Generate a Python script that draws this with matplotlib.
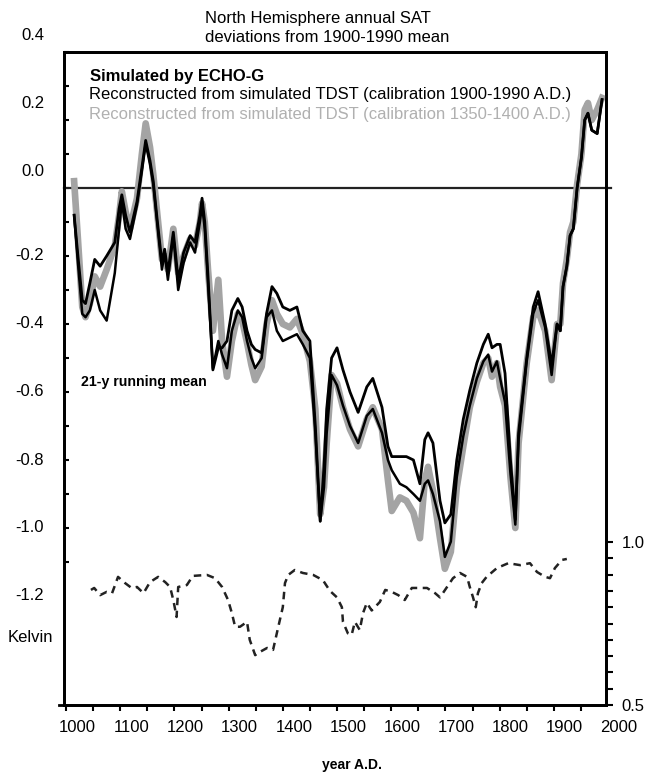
import matplotlib
matplotlib.use("Agg")
import matplotlib.pyplot as plt
from matplotlib.transforms import blended_transform_factory

plt.rcParams['font.family'] = ['Liberation Sans', 'DejaVu Sans']

# ---------------- data ----------------
years = [1015, 1022, 1030, 1036, 1044, 1053, 1063, 1075, 1090, 1098, 1103, 1110, 1118, 1131,
         1140, 1147, 1155, 1161, 1168, 1177, 1182, 1188, 1198, 1207, 1217, 1229, 1238, 1247,
         1251, 1256, 1262, 1271, 1281, 1288, 1297, 1306, 1317, 1325, 1334, 1342, 1349, 1361,
         1370, 1380, 1389, 1400, 1413, 1426, 1437, 1450, 1460, 1469, 1476, 1481, 1490, 1500,
         1511, 1524, 1539, 1555, 1566, 1583, 1594, 1601, 1616, 1628, 1641, 1653, 1662, 1668,
         1677, 1690, 1699, 1710, 1721, 1733, 1745, 1758, 1770, 1779, 1786, 1795, 1801, 1810,
         1820, 1829, 1835, 1850, 1862, 1871, 1884, 1896, 1906, 1912, 1917, 1924, 1930, 1936,
         1943, 1951, 1957, 1963, 1970, 1980, 1989]

# reconstructed, calibration 1350-1400 (grey)
rec_1350 = [0.02, -0.15, -0.35, -0.38, -0.34, -0.26, -0.29, -0.24, -0.17, -0.08, -0.01, -0.07, -0.12, -0.03,
            0.10, 0.19, 0.12, 0.04, -0.07, -0.21, -0.20, -0.24, -0.12, -0.25, -0.20, -0.15, -0.17, -0.10,
            -0.045, -0.10, -0.24, -0.42, -0.27, -0.45, -0.555, -0.45, -0.37, -0.39, -0.455, -0.52, -0.565, -0.525,
            -0.40, -0.33, -0.37, -0.40, -0.41, -0.385, -0.43, -0.51, -0.65, -0.96, -0.88, -0.75, -0.55, -0.575,
            -0.645, -0.71, -0.76, -0.68, -0.645, -0.71, -0.86, -0.95, -0.91, -0.92, -0.955, -1.03, -0.86, -0.82,
            -0.89, -1.03, -1.12, -1.07, -0.88, -0.76, -0.645, -0.57, -0.515, -0.50, -0.555, -0.515, -0.585, -0.64,
            -0.85, -1.00, -0.75, -0.515, -0.38, -0.36, -0.42, -0.565, -0.40, -0.40, -0.28, -0.21, -0.13, -0.10,
            0.01, 0.10, 0.23, 0.25, 0.20, 0.23, 0.265]

# simulated by ECHO-G (black)
simulated = [-0.08, -0.20, -0.33, -0.34, -0.28, -0.21, -0.23, -0.20, -0.16, -0.06, -0.02, -0.08, -0.13, -0.04,
             0.06, 0.14, 0.08, 0.02, -0.09, -0.22, -0.18, -0.25, -0.13, -0.27, -0.19, -0.14, -0.16, -0.08,
             -0.03, -0.10, -0.26, -0.535, -0.47, -0.47, -0.45, -0.36, -0.325, -0.35, -0.42, -0.46, -0.475, -0.485,
             -0.37, -0.29, -0.31, -0.35, -0.36, -0.35, -0.42, -0.45, -0.70, -0.98, -0.82, -0.65, -0.50, -0.47,
             -0.535, -0.60, -0.66, -0.585, -0.56, -0.645, -0.76, -0.79, -0.79, -0.79, -0.80, -0.87, -0.74, -0.72,
             -0.75, -0.92, -0.985, -0.96, -0.80, -0.68, -0.595, -0.515, -0.46, -0.43, -0.47, -0.46, -0.46, -0.545,
             -0.80, -0.975, -0.72, -0.50, -0.35, -0.305, -0.40, -0.52, -0.40, -0.42, -0.29, -0.23, -0.14, -0.12,
             0.00, 0.09, 0.20, 0.22, 0.17, 0.16, 0.26]

# reconstructed, calibration 1900-1990 (black)
rec_1900 = [-0.08, -0.22, -0.37, -0.38, -0.36, -0.30, -0.36, -0.39, -0.25, -0.12, -0.04, -0.12, -0.15, -0.05,
            0.05, 0.13, 0.07, 0.01, -0.10, -0.24, -0.19, -0.27, -0.14, -0.30, -0.22, -0.16, -0.19, -0.10,
            -0.05, -0.12, -0.28, -0.53, -0.45, -0.49, -0.53, -0.42, -0.36, -0.38, -0.45, -0.50, -0.53, -0.50,
            -0.38, -0.36, -0.42, -0.45, -0.44, -0.43, -0.46, -0.50, -0.72, -0.98, -0.88, -0.72, -0.55, -0.58,
            -0.64, -0.70, -0.75, -0.67, -0.65, -0.72, -0.80, -0.83, -0.87, -0.88, -0.90, -0.92, -0.87, -0.86,
            -0.90, -0.98, -1.085, -1.04, -0.85, -0.73, -0.64, -0.56, -0.51, -0.49, -0.54, -0.51, -0.56, -0.63,
            -0.84, -0.99, -0.74, -0.51, -0.37, -0.33, -0.41, -0.55, -0.40, -0.42, -0.29, -0.23, -0.14, -0.12,
            0.00, 0.09, 0.20, 0.22, 0.17, 0.16, 0.26]

# dashed series (right axis)
dash_years = [1046, 1052, 1063, 1075, 1085, 1096, 1109, 1121, 1131, 1143, 1155, 1170, 1183, 1192, 1198,
              1204, 1207, 1223, 1234, 1260, 1275, 1288, 1299, 1306, 1312, 1321, 1334, 1339, 1349, 1358,
              1371, 1382, 1391, 1400, 1404, 1410, 1422, 1437, 1456, 1474, 1487, 1500, 1509, 1511, 1520,
              1527, 1533, 1542, 1548, 1555, 1564, 1579, 1589, 1601, 1613, 1625, 1638, 1653, 1666, 1681,
              1690, 1703, 1714, 1727, 1740, 1745, 1751, 1756, 1760, 1767, 1776, 1795, 1816, 1838, 1856,
              1869, 1884, 1893, 1902, 1915, 1924]
dash_vals = [0.853, 0.859, 0.837, 0.847, 0.843, 0.893, 0.874, 0.859, 0.862, 0.843, 0.877, 0.893, 0.877, 0.862, 0.822,
             0.77, 0.862, 0.868, 0.896, 0.899, 0.889, 0.862, 0.822, 0.782, 0.74, 0.74, 0.755, 0.70, 0.653, 0.663,
             0.675, 0.669, 0.735, 0.80, 0.874, 0.899, 0.914, 0.905, 0.899, 0.883, 0.85, 0.83, 0.80, 0.755, 0.72,
             0.715, 0.755, 0.73, 0.782, 0.813, 0.79, 0.816, 0.853, 0.847, 0.837, 0.822, 0.859, 0.859, 0.859, 0.843,
             0.83, 0.862, 0.889, 0.905, 0.893, 0.862, 0.83, 0.80, 0.843, 0.874, 0.893, 0.92, 0.935, 0.929, 0.935,
             0.908, 0.893, 0.889, 0.92, 0.945, 0.948]

left_labels = [0.4, 0.2, 0.0, -0.2, -0.4, -0.6, -0.8, -1.0, -1.2]
left_ticks = [0.4, 0.3, 0.2, 0.1, 0.0, -0.1, -0.2, -0.3, -0.4, -0.5, -0.6, -0.7, -0.8, -0.9, -1.0, -1.1]
x_ticks = list(range(1000, 1951, 50))
x_labels = list(range(1000, 2001, 100))
right_major = [0.5, 1.0]
right_minor = [0.55, 0.6, 0.65, 0.7, 0.75, 0.8, 0.85, 0.9, 0.95]

# ---------------- figure ----------------
W, H = 647, 772
fig = plt.figure(figsize=(W / 100, H / 100), dpi=100)
fx = lambda x: x / W
fy = lambda y: 1 - y / H

ax = fig.add_axes([fx(64), fy(705), (606 - 64) / W, (705 - 52) / H])
ax.set_xlim(996.3, 1996.3)
ax.set_ylim(-(705 - 188) / 340, (188 - 52) / 340)

ax.plot(years, rec_1350, color='#a4a4a4', lw=4.8, solid_joinstyle='round', zorder=3)
ax.plot(years, simulated, color='black', lw=2.0, zorder=4)
ax.plot(years, rec_1900, color='black', lw=1.8, zorder=4)
ax.axhline(0, xmin=0, xmax=1.01, color='#222222', lw=1.6, clip_on=False, zorder=2)

for s in ax.spines.values():
    s.set_linewidth(2)
ax.plot([-0.009, 0], [0, 0], transform=ax.transAxes, color='black', lw=2, clip_on=False)

ax.set_xticks(x_ticks)
ax.tick_params(axis='x', direction='out', length=4.5, width=1.5, labelbottom=False)
ax.set_yticks(left_ticks)
ax.tick_params(axis='y', direction='in', length=3.8, width=1.5, labelleft=False, right=False)

# left labels (top three drawn slightly higher, as in the original)
tl = blended_transform_factory(fig.transFigure, ax.transData)
for v in left_labels:
    yy = v + 0.05 if v >= 0 else v
    ax.text(fx(44), yy, f"{v:.1f}", transform=tl, ha='right', va='center',
            fontsize=12, clip_on=False)

# bottom labels (shifted right, as in the original)
tb = blended_transform_factory(ax.transData, fig.transFigure)
for v in x_labels:
    ax.text(v + 20.3, fy(727), str(v), transform=tb, ha='center', va='center',
            fontsize=12, clip_on=False)

# right axis
ax2 = ax.twinx()
ax2.set_ylim(0.5, 0.5 + (705 - 52) / 326)
ax2.plot(dash_years, dash_vals, color='#222222', lw=1.8, linestyle=(0, (3.0, 2.2)))
ax2.set_yticks(right_major)
ax2.set_yticklabels(["0.5", "1.0"], fontsize=12)
ax2.set_yticks(right_minor, minor=True)
ax2.tick_params(axis='y', which='both', direction='out', length=5, width=1.5, pad=6)
for s in ax2.spines.values():
    s.set_linewidth(2)

# texts
fig.text(fx(205), fy(19), "North Hemisphere annual SAT", ha='left', va='center', fontsize=12)
fig.text(fx(205), fy(38), "deviations from 1900-1990 mean", ha='left', va='center', fontsize=12)
fig.text(fx(90), fy(76), "Simulated by ECHO-G", ha='left', va='center', fontsize=12, fontweight='bold')
fig.text(fx(89), fy(95), "Reconstructed from simulated TDST (calibration 1900-1990 A.D.)",
         ha='left', va='center', fontsize=12)
fig.text(fx(89), fy(115), "Reconstructed from simulated TDST (calibration 1350-1400 A.D.)",
         ha='left', va='center', fontsize=12, color='#b0b0b0')
fig.text(fx(81), fy(382), "21-y running mean", ha='left', va='center', fontsize=10.2, fontweight='bold')
fig.text(fx(8), fy(638), "Kelvin", ha='left', va='center', fontsize=12)
fig.text(fx(352), fy(765), "year A.D.", ha='center', va='center', fontsize=10, fontweight='bold')

fig.savefig("out.png", dpi=100)
